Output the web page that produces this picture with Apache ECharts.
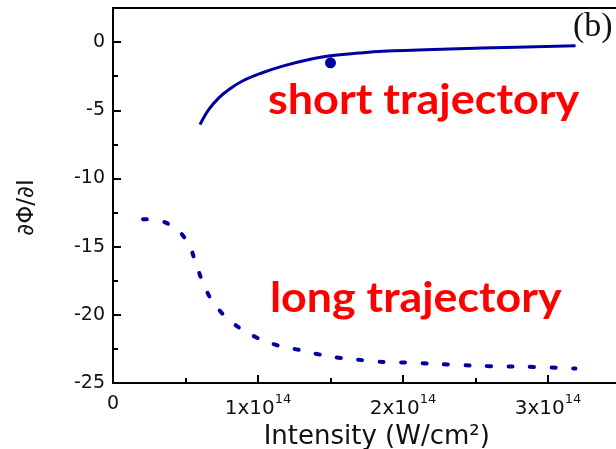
<!DOCTYPE html>
<html>
<head>
<meta charset="utf-8">
<script src="https://cdn.jsdelivr.net/npm/echarts@6/dist/echarts.min.js"></script>
<style>
  html, body { margin: 0; padding: 0; background: #fff; }
  #chart { width: 616px; height: 449px; }
</style>
</head>
<body>
<div id="chart"></div>
<script>
// Intensity values in units of 1e14 W/cm^2
const shortIntensity = [0.60, 0.66, 0.73, 0.80, 0.89, 1.03, 1.17, 1.33, 1.50, 1.70, 1.86, 2.32, 2.78, 3.19];
const shortSlope     = [-6.05, -4.95, -4.09, -3.48, -2.87, -2.25, -1.76, -1.33, -1.0, -0.8, -0.68, -0.51, -0.37, -0.27];

const longIntensity = [0.207, 0.372, 0.506, 0.568, 0.621, 0.699, 0.837, 0.981, 1.131, 1.278, 1.416, 1.568, 1.726, 1.878, 2.028, 2.326, 2.602, 2.899, 3.189];
const longSlope     = [-12.99, -13.28, -14.51, -16.10, -17.65, -19.21, -20.68, -21.62, -22.23, -22.56, -22.89, -23.16, -23.33, -23.46, -23.50, -23.65, -23.77, -23.82, -23.94];

// single measured point
const pointIntensity = [1.50];
const pointSlope = [-1.52];

const xTickValues = [0, 1, 2, 3];          // labelled ticks, x 1e14
const yTickValues = [-25, -20, -15, -10, -5, 0];

const SCALE = 1e14;
const lineColor = '#0000a0';
const axisColor = '#000';
const textColor = '#111';
const textFont = '"DejaVu Sans", Verdana, sans-serif';
const labelFont = 'bold 42px Lato, "Open Sans", sans-serif';

function pairs(xs, ys) {
  return xs.map((x, i) => [x * SCALE, ys[i]]);
}

const chart = echarts.init(document.getElementById('chart'), null, { renderer: 'canvas' });

const xLabelRich = {
  b: { fontSize: 20, fontFamily: textFont, color: textColor, lineHeight: 26, verticalAlign: 'bottom' },
  s: { fontSize: 13, fontFamily: textFont, color: textColor, lineHeight: 26, verticalAlign: 'top' },
  z: { fontSize: 19, fontFamily: textFont, color: textColor, lineHeight: 22 }
};

chart.setOption({
  animation: false,
  grid: {
    left: 113, top: 8, width: 507.5, bottom: 66,
    containLabel: false, outerBoundsMode: 'none',
    show: true, borderColor: axisColor, borderWidth: 2, backgroundColor: 'transparent'
  },
  xAxis: [
    {
      type: 'value', min: 0, max: 3.5 * SCALE, interval: SCALE,
      name: 'Intensity (W/cm²)', nameLocation: 'middle', nameGap: 40,
      nameTextStyle: { fontSize: 26, fontFamily: textFont, color: textColor, padding: [0, 0, 0, 20] },
      axisLine: { show: true, onZero: false, lineStyle: { color: axisColor, width: 2 } },
      axisTick: { show: true, inside: true, length: 8, lineStyle: { color: axisColor, width: 2 } },
      splitLine: { show: false },
      axisLabel: {
        margin: 10,
        rich: xLabelRich,
        formatter: function (v) {
          const n = Math.round(v / SCALE);
          if (Math.abs(v - n * SCALE) > 1 || xTickValues.indexOf(n) < 0) return '';
          if (n === 0) return '{z|0}';
          return '{b|' + n + 'x10}{s|14}';
        }
      }
    },
    {
      // minor ticks every 0.5e14
      type: 'value', min: 0, max: 3.5 * SCALE, interval: 0.5 * SCALE,
      position: 'bottom',
      axisLine: { show: false, onZero: false },
      axisTick: { show: true, inside: true, length: 5, lineStyle: { color: axisColor, width: 2 } },
      axisLabel: { show: false },
      splitLine: { show: false }
    }
  ],
  yAxis: [
    {
      type: 'value', min: -25, max: 2.5, interval: 5,
      name: '∂Φ/∂I', nameLocation: 'middle', nameGap: 74,
      nameTextStyle: { fontSize: 23, fontFamily: textFont, color: textColor, padding: [0, 24, 0, 0] },
      axisLine: { show: true, onZero: false, lineStyle: { color: axisColor, width: 2 } },
      axisTick: { show: true, inside: true, length: 8, lineStyle: { color: axisColor, width: 2 } },
      splitLine: { show: false },
      axisLabel: {
        margin: 8, fontSize: 19, fontFamily: textFont, color: textColor,
        formatter: function (v) {
          return yTickValues.indexOf(Math.round(v)) >= 0 && Math.abs(v - Math.round(v)) < 1e-6 ? String(v) : '';
        }
      }
    },
    {
      // minor ticks every 2.5
      type: 'value', min: -25, max: 2.5, interval: 2.5,
      position: 'left',
      axisLine: { show: false, onZero: false },
      axisTick: { show: true, inside: true, length: 5, lineStyle: { color: axisColor, width: 2 } },
      axisLabel: { show: false },
      splitLine: { show: false }
    }
  ],
  series: [
    {
      name: 'short trajectory', type: 'line', xAxisIndex: 0, yAxisIndex: 0,
      data: pairs(shortIntensity, shortSlope),
      smooth: 0.4, showSymbol: false,
      lineStyle: { color: lineColor, width: 3 }
    },
    {
      name: 'long trajectory', type: 'line', xAxisIndex: 0, yAxisIndex: 0,
      data: pairs(longIntensity, longSlope),
      smooth: 0.4, showSymbol: false,
      lineStyle: { color: lineColor, width: 4, type: [4, 17.5], cap: 'round' }
    },
    {
      name: 'point', type: 'scatter', xAxisIndex: 0, yAxisIndex: 0,
      data: pairs(pointIntensity, pointSlope),
      symbol: 'circle', symbolSize: 11,
      itemStyle: { color: lineColor, opacity: 1 }
    }
  ],
  graphic: [
    {
      type: 'text', x: 268, y: 79, scaleX: 1.07,
      style: { text: 'short trajectory', font: labelFont, fill: '#ff0000', verticalAlign: 'top' }
    },
    {
      type: 'text', x: 270, y: 277, scaleX: 1.065,
      style: { text: 'long trajectory', font: labelFont, fill: '#ff0000', verticalAlign: 'top' }
    },
    {
      type: 'text', x: 573, y: 10,
      style: { text: '(b)', font: '34px "Liberation Serif", "Times New Roman", serif', fill: textColor, verticalAlign: 'top' }
    }
  ]
});
</script>
</body>
</html>
